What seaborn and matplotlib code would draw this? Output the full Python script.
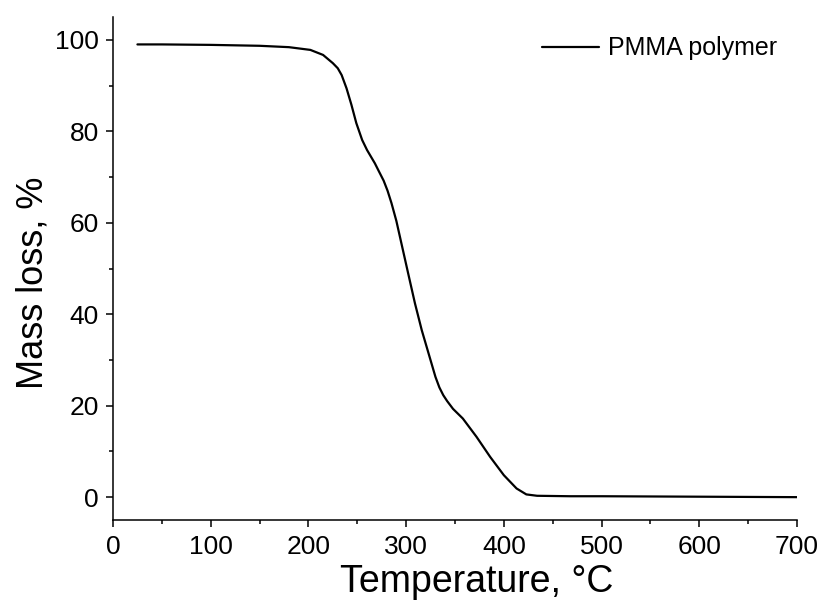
import matplotlib
matplotlib.use("Agg")
import matplotlib.pyplot as plt
import seaborn as sns
import pandas as pd
from matplotlib.ticker import MultipleLocator

temperature = [25, 50, 100, 150, 180, 202, 215, 225, 230, 234, 239, 244, 249, 255, 260,
               268, 272, 277, 281, 285, 290, 294, 302, 309, 316, 323, 330, 334, 338, 342,
               348, 358, 372, 386, 400, 413, 423, 434, 468, 500, 550, 600, 650, 700]
mass_loss = [99.0, 99.0, 98.9, 98.7, 98.4, 97.8, 96.7, 94.9, 93.8, 92.3, 89.4, 85.8, 81.8,
             78.1, 75.9, 73.0, 71.3, 69.2, 67.0, 64.3, 60.4, 56.6, 49.0, 42.4, 36.5, 31.4,
             26.3, 24.0, 22.3, 21.0, 19.3, 17.2, 13.2, 8.8, 4.8, 1.9, 0.6, 0.3, 0.2, 0.2,
             0.15, 0.1, 0.05, 0.0]
series_label = "PMMA polymer"

df = pd.DataFrame({"Temperature": temperature, "Mass": mass_loss, "Series": series_label})

sns.set_style("ticks")
plt.rcParams["font.family"] = ["Liberation Sans", "DejaVu Sans"]

fig = plt.figure(figsize=(8.23, 6.0), dpi=100)
ax = fig.add_axes([0.1373, 0.1333, 0.8311, 0.8384])

sns.lineplot(data=df, x="Temperature", y="Mass", hue="Series", palette=["black"],
             linewidth=1.6, ax=ax)

ax.set_xlim(0, 700)
ax.set_ylim(-5, 105)
ax.xaxis.set_major_locator(MultipleLocator(100))
ax.xaxis.set_minor_locator(MultipleLocator(50))
ax.yaxis.set_major_locator(MultipleLocator(20))
ax.yaxis.set_minor_locator(MultipleLocator(10))
ax.tick_params(which="major", direction="out", length=5, width=1.1, labelsize=19,
               colors="black")
ax.tick_params(axis="x", which="major", pad=6)
ax.tick_params(axis="y", which="major", pad=5)
ax.tick_params(which="minor", direction="out", length=3, width=1.1, colors="black")
for s in ["top", "right"]:
    ax.spines[s].set_visible(False)
for s in ["left", "bottom"]:
    ax.spines[s].set_linewidth(1.1)
    ax.spines[s].set_color("black")

ax.set_xlabel("Temperature, °C", fontsize=27, color="black")
ax.set_ylabel("Mass loss, %", fontsize=26, color="black")
ax.xaxis.set_label_coords(0.531, -0.088)
ax.yaxis.set_label_coords(-0.092, 0.472)

leg = ax.legend(loc="upper right", frameon=False, fontsize=18, handlelength=2.3,
                handletextpad=0.35, bbox_to_anchor=(1.004, 1.006))
for t in leg.get_texts():
    t.set_color("black")

fig.savefig("out.png", dpi=100)
